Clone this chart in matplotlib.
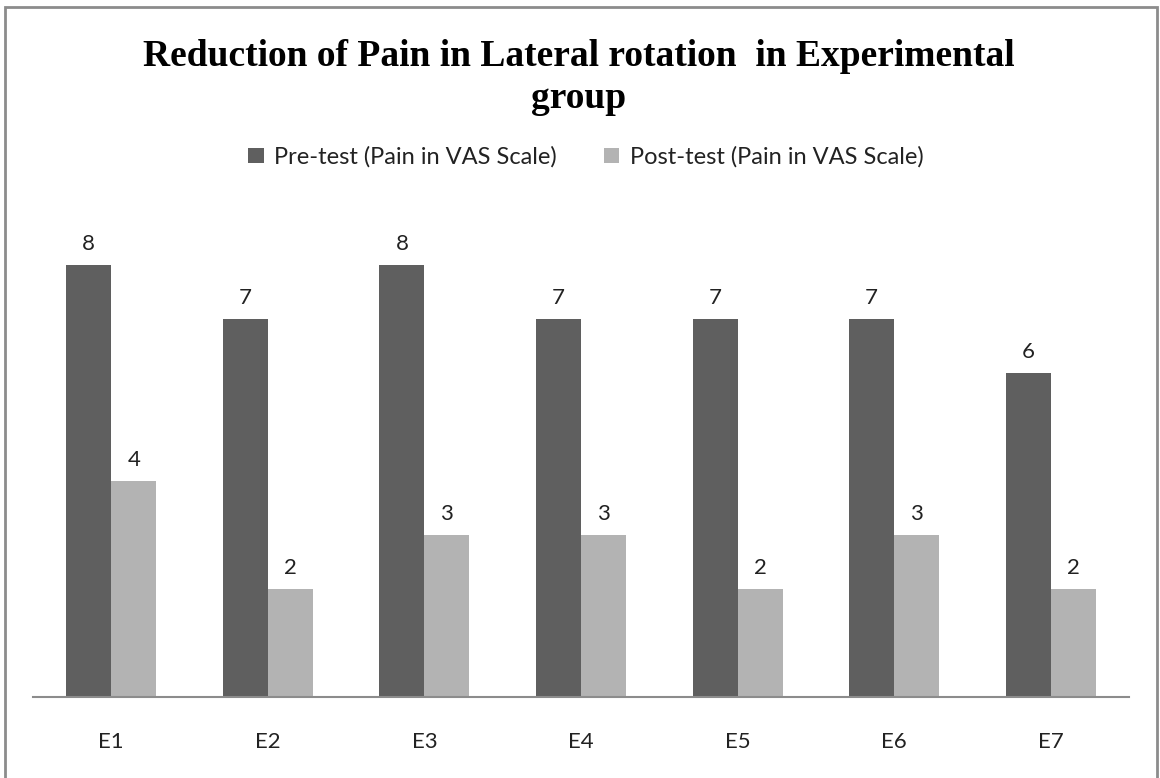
import matplotlib.pyplot as plt
import numpy as np
from matplotlib.patches import Rectangle

# data
categories = ["E1", "E2", "E3", "E4", "E5", "E6", "E7"]
pre_test = [8, 7, 8, 7, 7, 7, 6]
post_test = [4, 2, 3, 3, 2, 3, 2]
series_names = ["Pre-test (Pain in VAS Scale)", "Post-test (Pain in VAS Scale)"]

W, H = 1160, 778
fig = plt.figure(figsize=(W / 100, H / 100), dpi=100)

# outer chart border (bottom runs off the picture)
fig.patches.append(Rectangle((5 / W, -0.02), 1152 / W, (H - 7) / H + 0.02,
                             transform=fig.transFigure, fill=False,
                             edgecolor="#8c8c8c", linewidth=2))

ax = fig.add_axes([33 / W, (H - 697) / H, 1096 / W, 486 / H])

x = np.arange(len(categories))
bw = 0.287
dark, light = "#5f5f5f", "#b3b3b3"
b1 = ax.bar(x - bw / 2, pre_test, bw, color=dark, label=series_names[0])
b2 = ax.bar(x + bw / 2, post_test, bw, color=light, label=series_names[1])

lbl_font = dict(family=["Lato", "DejaVu Sans"], fontsize=16, color="#222222")
for bars in (b1, b2):
    for r in bars:
        ax.annotate(f"{int(r.get_height())}",
                    (r.get_x() + r.get_width() / 2, r.get_height()),
                    xytext=(0, 8), textcoords="offset points",
                    ha="center", va="bottom", **lbl_font)

ax.set_xlim(-0.5, len(categories) - 0.5)
ax.set_ylim(0, 9)
ax.set_xticks(x)
ax.set_xticklabels(categories, **lbl_font)
ax.tick_params(axis="x", length=0, pad=25)
ax.set_yticks([])
for s in ("left", "right", "top"):
    ax.spines[s].set_visible(False)
ax.spines["bottom"].set_color("#8c8c8c")
ax.spines["bottom"].set_linewidth(1.5)

fig.text(579 / W, 1 - 57 / H, "Reduction of Pain in Lateral rotation  in Experimental",
         ha="center", va="center", family="Liberation Serif",
         fontweight="bold", fontsize=27)
fig.text(579 / W, 1 - 98 / H, "group", ha="center", va="center",
         family="Liberation Serif", fontweight="bold", fontsize=27)

leg = fig.legend(loc="center", bbox_to_anchor=(586 / W, 1 - 157 / H), ncol=2,
                 frameon=False, handlelength=0.65, handleheight=0.65,
                 handletextpad=0.45, columnspacing=2.0,
                 prop={"family": ["Lato", "DejaVu Sans"], "size": 17})
for t in leg.get_texts():
    t.set_color("#222222")

fig.savefig("out.png", dpi=100)
